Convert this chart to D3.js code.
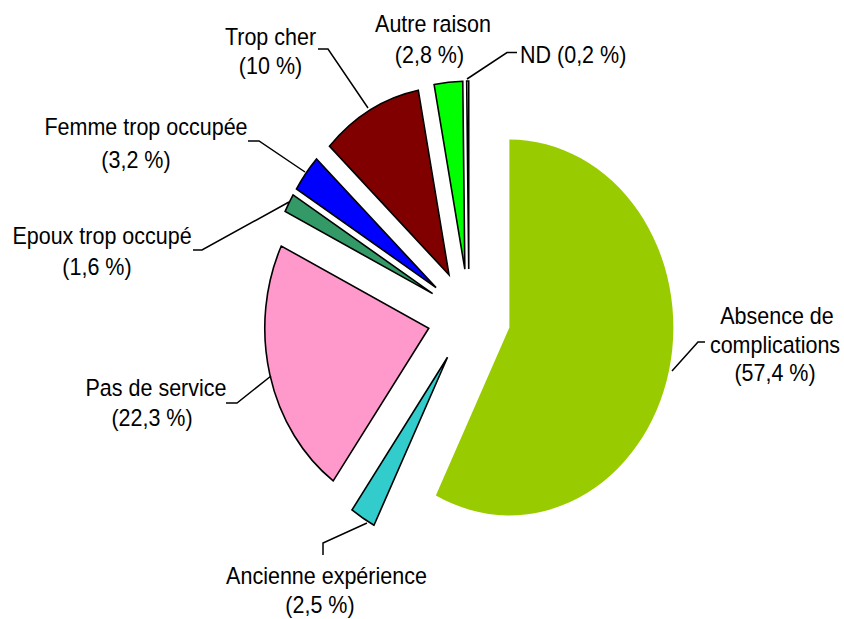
<!DOCTYPE html>
<html>
<head>
<meta charset="utf-8">
<script src="https://cdn.jsdelivr.net/npm/d3@7"></script>
<style>
  html, body { margin: 0; padding: 0; background: #fff; }
  svg { display: block; }
  text { font-family: "Liberation Sans", Arial, sans-serif; fill: #000; }
</style>
</head>
<body>
<script>
// ---- Data ----
const categories = ["Absence de complications", "Ancienne expérience", "Pas de service",
  "Epoux trop occupé", "Femme trop occupée", "Trop cher", "Autre raison", "ND"];
const values = [57.4, 2.5, 22.3, 1.6, 3.2, 10, 2.8, 0.2];
const colors = ["#99CC00", "#33CCCC", "#FF99CC", "#339966", "#0000FF", "#800000", "#00FF00", "#FFFFFF"];
const nameLines = [["Absence de", "complications"], ["Ancienne expérience"], ["Pas de service"],
  ["Epoux trop occupé"], ["Femme trop occupée"], ["Trop cher"], ["Autre raison"], null];

// ---- Layout ----
const W = 844, H = 619;
const cx = 469, cy = 316.5, R = 164, stretchY = 1.146, explode = 41.5;
const fontSize = 21.5, textStretch = 1.1;
const labelPos = [
  [[777, 323.5], [775, 352.5], [775, 380.5]],
  [[326.5, 584], [320, 613]],
  [[156, 396], [152, 426]],
  [[102, 243.5], [97, 274.5]],
  [[146, 134.5], [136, 167.5]],
  [[270.5, 44.5], [270.5, 73.5]],
  [[433, 31.5], [429.5, 62.5]],
  [[520, 62.5]]
];
const leaders = [
  [[705, 342], [698, 342], [672, 371]],
  [[323, 555], [323, 543], [367, 523]],
  [[226, 403], [237, 403], [271, 376]],
  [[193, 250], [202, 250], [289, 202]],
  [[248, 141], [259, 141], [305, 172]],
  [[318, 49], [328, 49], [368, 108]],
  null,
  [[467, 79], [507, 52.5], [517, 52.5]]
];

const fmt = v => "(" + String(v).replace(".", ",") + " %)";

const svg = d3.select("body").append("svg").attr("width", W).attr("height", H);

const pie = d3.pie().sort(null).value(d => d).startAngle(0).endAngle(2 * Math.PI);
const arcs = pie(values);
const arc = d3.arc().innerRadius(0).outerRadius(R);

const g = svg.append("g").attr("transform", `translate(${cx},${cy}) scale(1,${stretchY})`);

g.selectAll("path.slice").data(arcs).enter().append("path")
  .attr("class", "slice")
  .attr("d", arc)
  .attr("transform", d => {
    const m = (d.startAngle + d.endAngle) / 2;
    return `translate(${explode * Math.sin(m)},${-explode * Math.cos(m)})`;
  })
  .attr("fill", (d, i) => colors[i])
  .attr("stroke", (d, i) => i === 0 ? "none" : "#000")
  .attr("stroke-width", 1.6)
  .attr("stroke-linejoin", "miter")
  .attr("vector-effect", "non-scaling-stroke");

// leader lines
const line = d3.line();
svg.selectAll("path.leader").data(leaders.filter(l => l)).enter().append("path")
  .attr("class", "leader")
  .attr("d", d => line(d))
  .attr("fill", "none")
  .attr("stroke", "#000")
  .attr("stroke-width", 1.5);

// labels
categories.forEach((c, i) => {
  const lines = nameLines[i] ? nameLines[i].concat([fmt(values[i])]) : [c + " " + fmt(values[i])];
  lines.forEach((t, j) => {
    const p = labelPos[i][j];
    svg.append("text")
      .attr("transform", `translate(${p[0]},${p[1]}) scale(1,${textStretch})`)
      .attr("text-anchor", nameLines[i] ? "middle" : "start")
      .attr("font-size", fontSize)
      .text(t);
  });
});
</script>
</body>
</html>
